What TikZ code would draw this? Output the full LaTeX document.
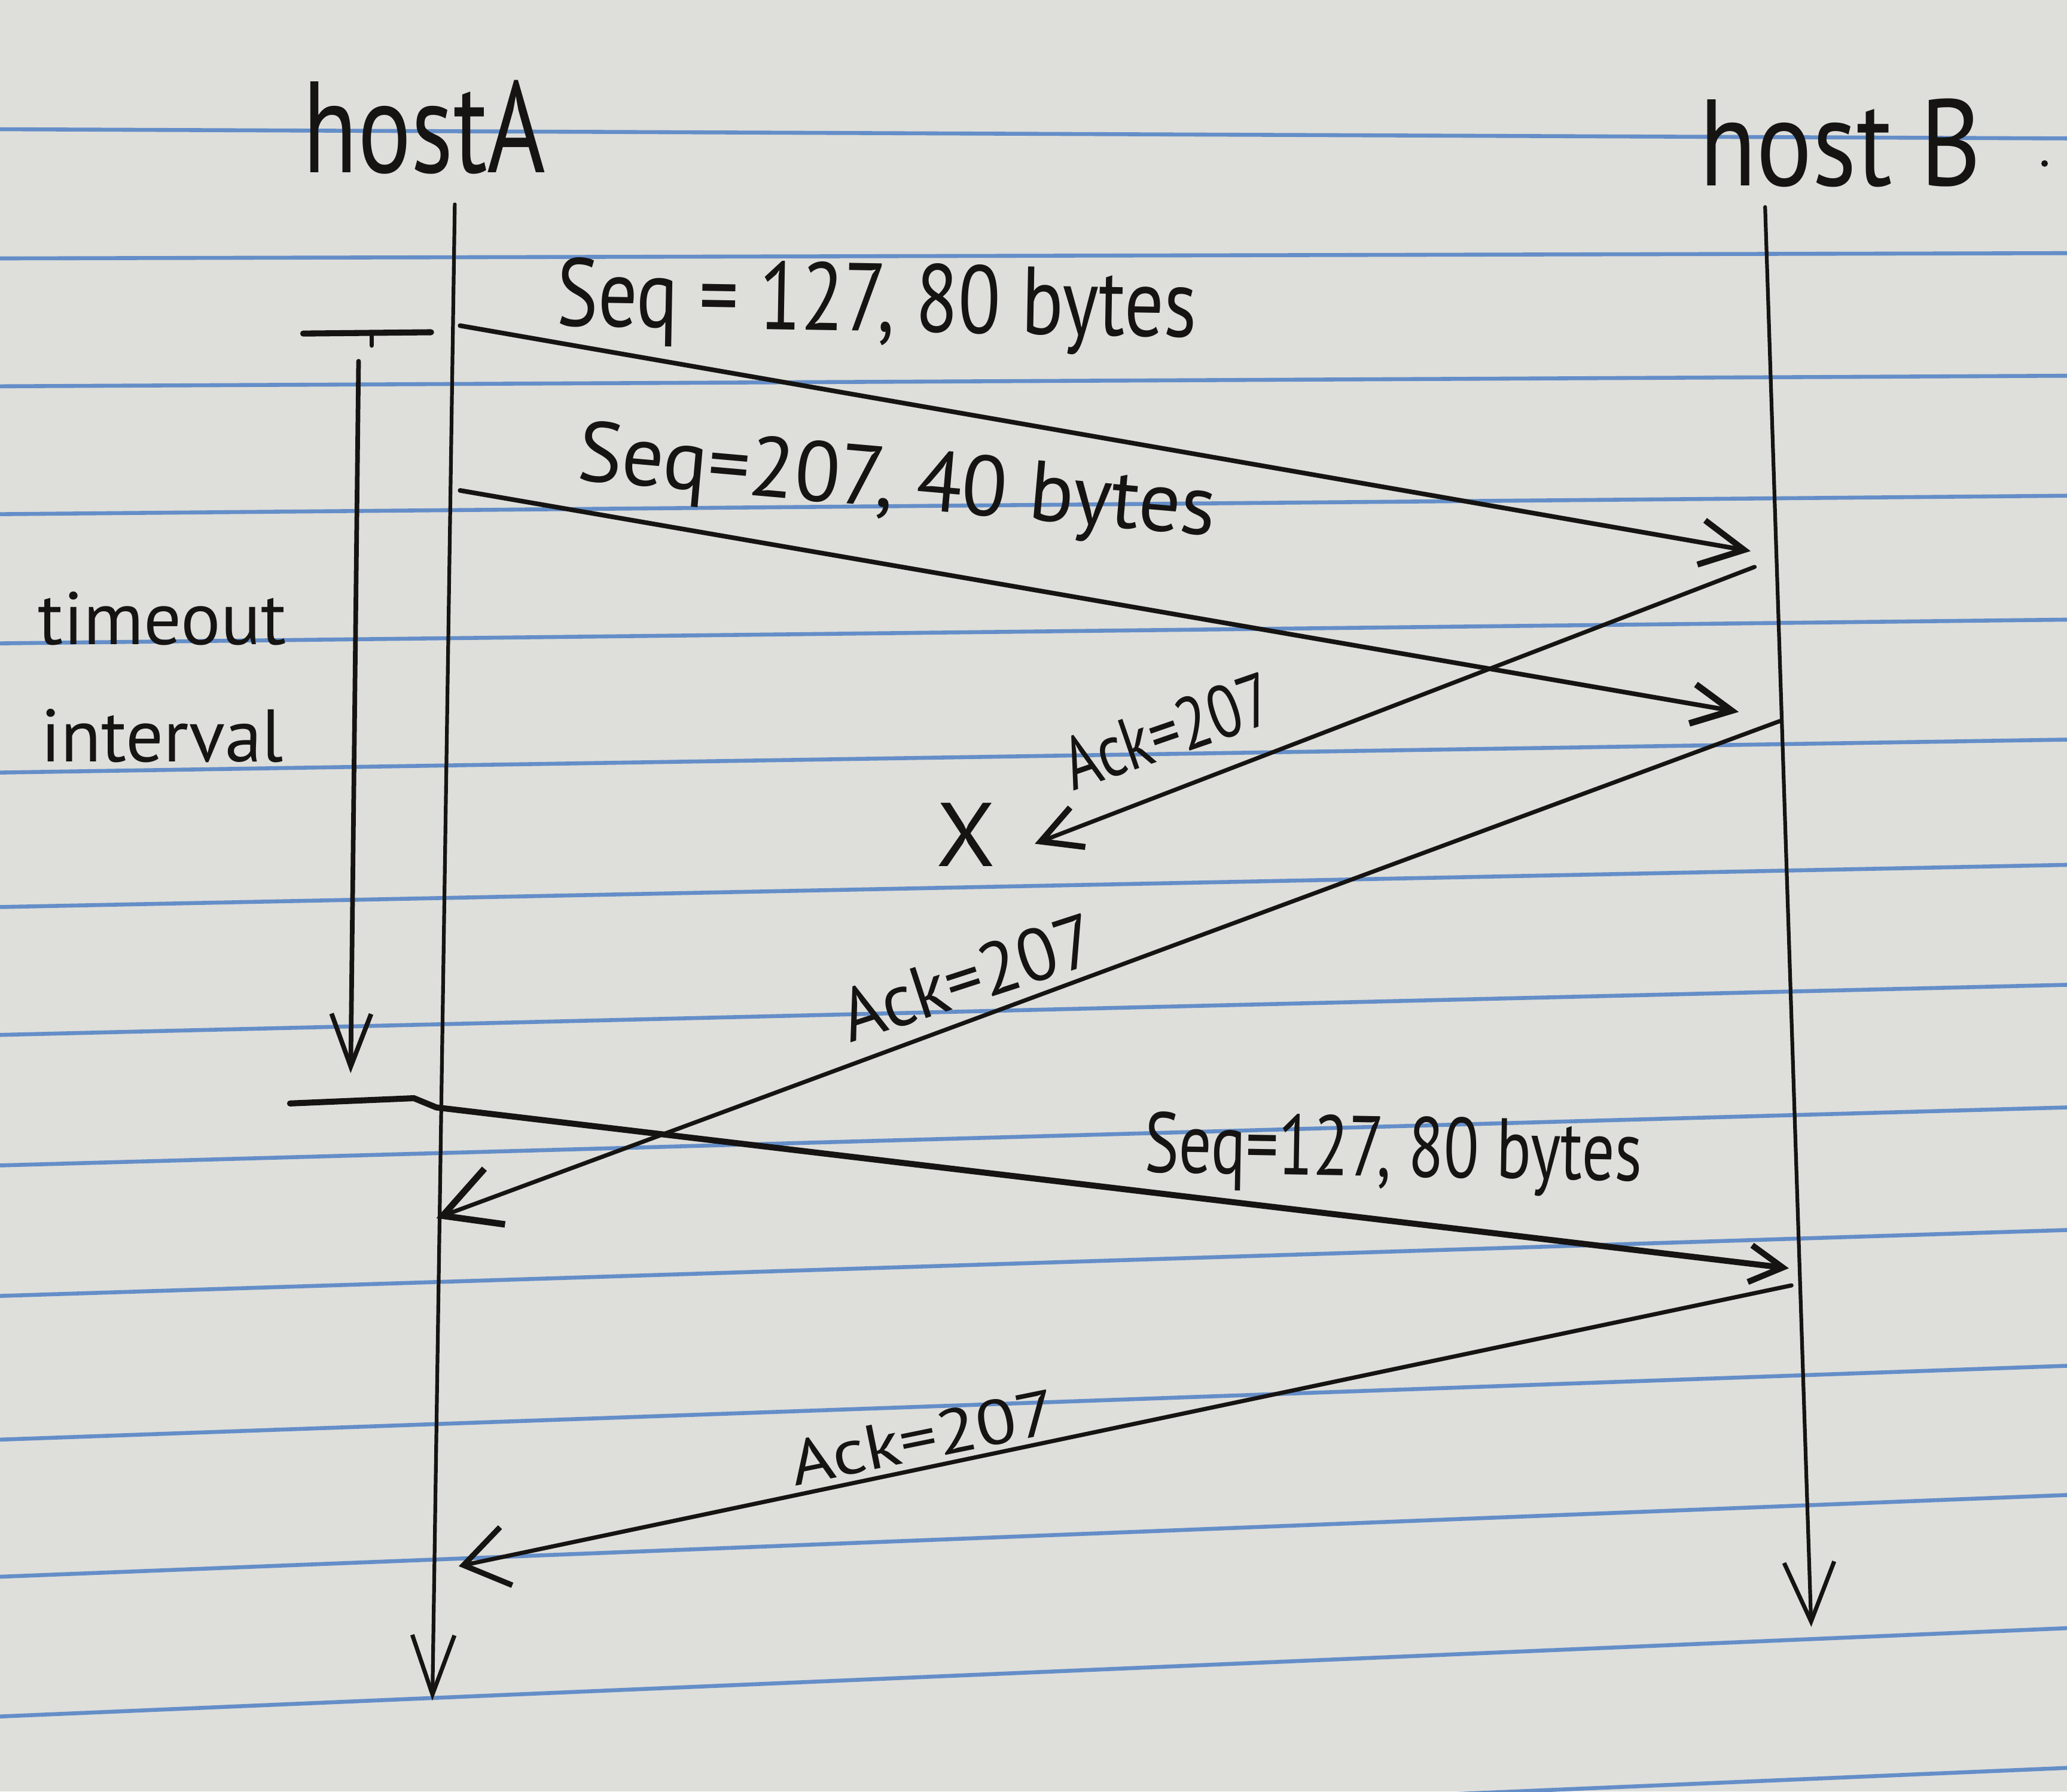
\documentclass[tikz,border=0pt]{standalone}
\usepackage{fontspec}
\setmainfont{PT Sans}
\usepackage{graphicx}
\usetikzlibrary{arrows.meta}
\definecolor{paper}{RGB}{222,222,218}
\definecolor{rulecol}{RGB}{100,142,200}
\definecolor{ink}{RGB}{22,20,18}
\tikzset{
  lbl/.style={inner sep=0pt, outer sep=0pt, text=ink},
  hostline/.style={draw=ink, line width=0.8pt, line cap=round},
  msg/.style={draw=ink, line width=1pt, line cap=round, line join=round},
  ruleline/.style={draw=rulecol, line width=0.85pt},
}
\begin{document}
\begin{tikzpicture}[x=0.01cm,y=-0.01cm]
\fill[paper] (0,0) rectangle (1568,1359);
\useasboundingbox (0,0) rectangle (1568,1359);
% notebook rules
\foreach \l/\r in {98/105,196/192,293/285,390/376,488/470,586/561,688/656,785/747,884/840,983/933,1092/1036,1196/1134,1302/1235,1408/1341}
  \draw[ruleline] (0,\l) -- (1568,\r);

% host labels
\node[lbl,anchor=base west] (hA) at (230,131) {\resizebox{1.84cm}{0.70cm}{hostA}};
\node[lbl,anchor=base west] (hB) at (1289,141) {\resizebox{2.14cm}{0.66cm}{host B}};
\fill[ink] (1551,124) circle[radius=0.025cm];

% host time lines
\coordinate (Atop) at (345,155);
\coordinate (Abot) at (328,1290);
\coordinate (Btop) at (1339,157);
\coordinate (Bbot) at (1374,1234);
\draw[hostline,-{Straight Barb[length=0.45cm,width=0.32cm,line width=0.9pt]}] (Atop) -- (Abot);
\draw[hostline,-{Straight Barb[length=0.45cm,width=0.38cm,line width=0.9pt]}] (Btop) -- (Bbot);

% timeout interval
\coordinate (T1) at (230,253);
\coordinate (T2) at (327,252);
\coordinate (Ts1) at (282,253);
\coordinate (Ts2) at (282,262);
\coordinate (Tv1) at (272,274);
\coordinate (Tv2) at (266,814);
\draw[msg,line width=1.3pt] (T1) -- (T2);
\draw[msg] (Ts1) -- (Ts2);
\draw[msg,-{Straight Barb[length=0.4cm,width=0.3cm,line width=1pt]}] (Tv1) -- (Tv2);
\node[lbl,anchor=base west] (t1) at (29,489) {\resizebox{1.88cm}{!}{timeout}};
\node[lbl,anchor=base west] (t2) at (31,578) {\resizebox{1.84cm}{!}{interval}};

% Seq=127 first
\coordinate (S1a) at (349,247);
\coordinate (S1b) at (1328,418);
\draw[msg,-{Straight Barb[length=0.33cm,width=0.34cm,line width=1.3pt]}] (S1a) -- (S1b);
\node[lbl,anchor=base west,rotate=-1] (s1) at (422,247) {\resizebox{4.85cm}{0.52cm}{Seq = 127, 80 bytes}};

% Seq=207
\coordinate (S2a) at (349,372);
\coordinate (S2b) at (1319,540);
\draw[msg,-{Straight Barb[length=0.3cm,width=0.3cm,line width=1.4pt]}] (S2a) -- (S2b);
\node[lbl,anchor=base west,rotate=-5] (s2) at (437,364) {\resizebox{4.85cm}{0.46cm}{Seq=207, 40 bytes}};

% lost ACK
\coordinate (K1a) at (1331,430);
\coordinate (K1b) at (785,640);
\draw[msg,line width=0.9pt,-{Straight Barb[length=0.3cm,width=0.32cm,line width=1.3pt]}] (K1a) -- (K1b);
\node[lbl,anchor=base west,rotate=19] (k1) at (814,600) {\resizebox{1.65cm}{0.40cm}{Ack=207}};
\node[lbl] (X) at (733,633) {\resizebox{0.45cm}{0.48cm}{X}};

% second ACK
\coordinate (K2a) at (1350,547);
\coordinate (K2b) at (331,924);
\draw[msg,line width=0.9pt,-{Straight Barb[length=0.42cm,width=0.45cm,line width=1.4pt]}] (K2a) -- (K2b);
\node[lbl,anchor=base west,rotate=18] (k2) at (645,791) {\resizebox{2.0cm}{0.40cm}{Ack=207}};

% retransmission
\coordinate (R0) at (220,837);
\coordinate (R1) at (314,833);
\coordinate (R2) at (331,840);
\coordinate (R3) at (1357,962);
\draw[msg,line width=1.3pt,-{Straight Barb[length=0.25cm,width=0.28cm,line width=1.3pt]}] (R0) -- (R1) -- (R2) -- (R3);
\node[lbl,anchor=base west,rotate=-1] (s3) at (868,889) {\resizebox{3.77cm}{0.46cm}{Seq=127, 80 bytes}};

% third ACK
\coordinate (K3a) at (1359,975);
\coordinate (K3b) at (348,1188);
\draw[msg,line width=0.9pt,-{Straight Barb[length=0.33cm,width=0.45cm,line width=1.2pt]}] (K3a) -- (K3b);
\node[lbl,anchor=base west,rotate=11.5] (k3) at (603,1127) {\resizebox{2.05cm}{0.34cm}{Ack=207}};
\end{tikzpicture}
\end{document}
